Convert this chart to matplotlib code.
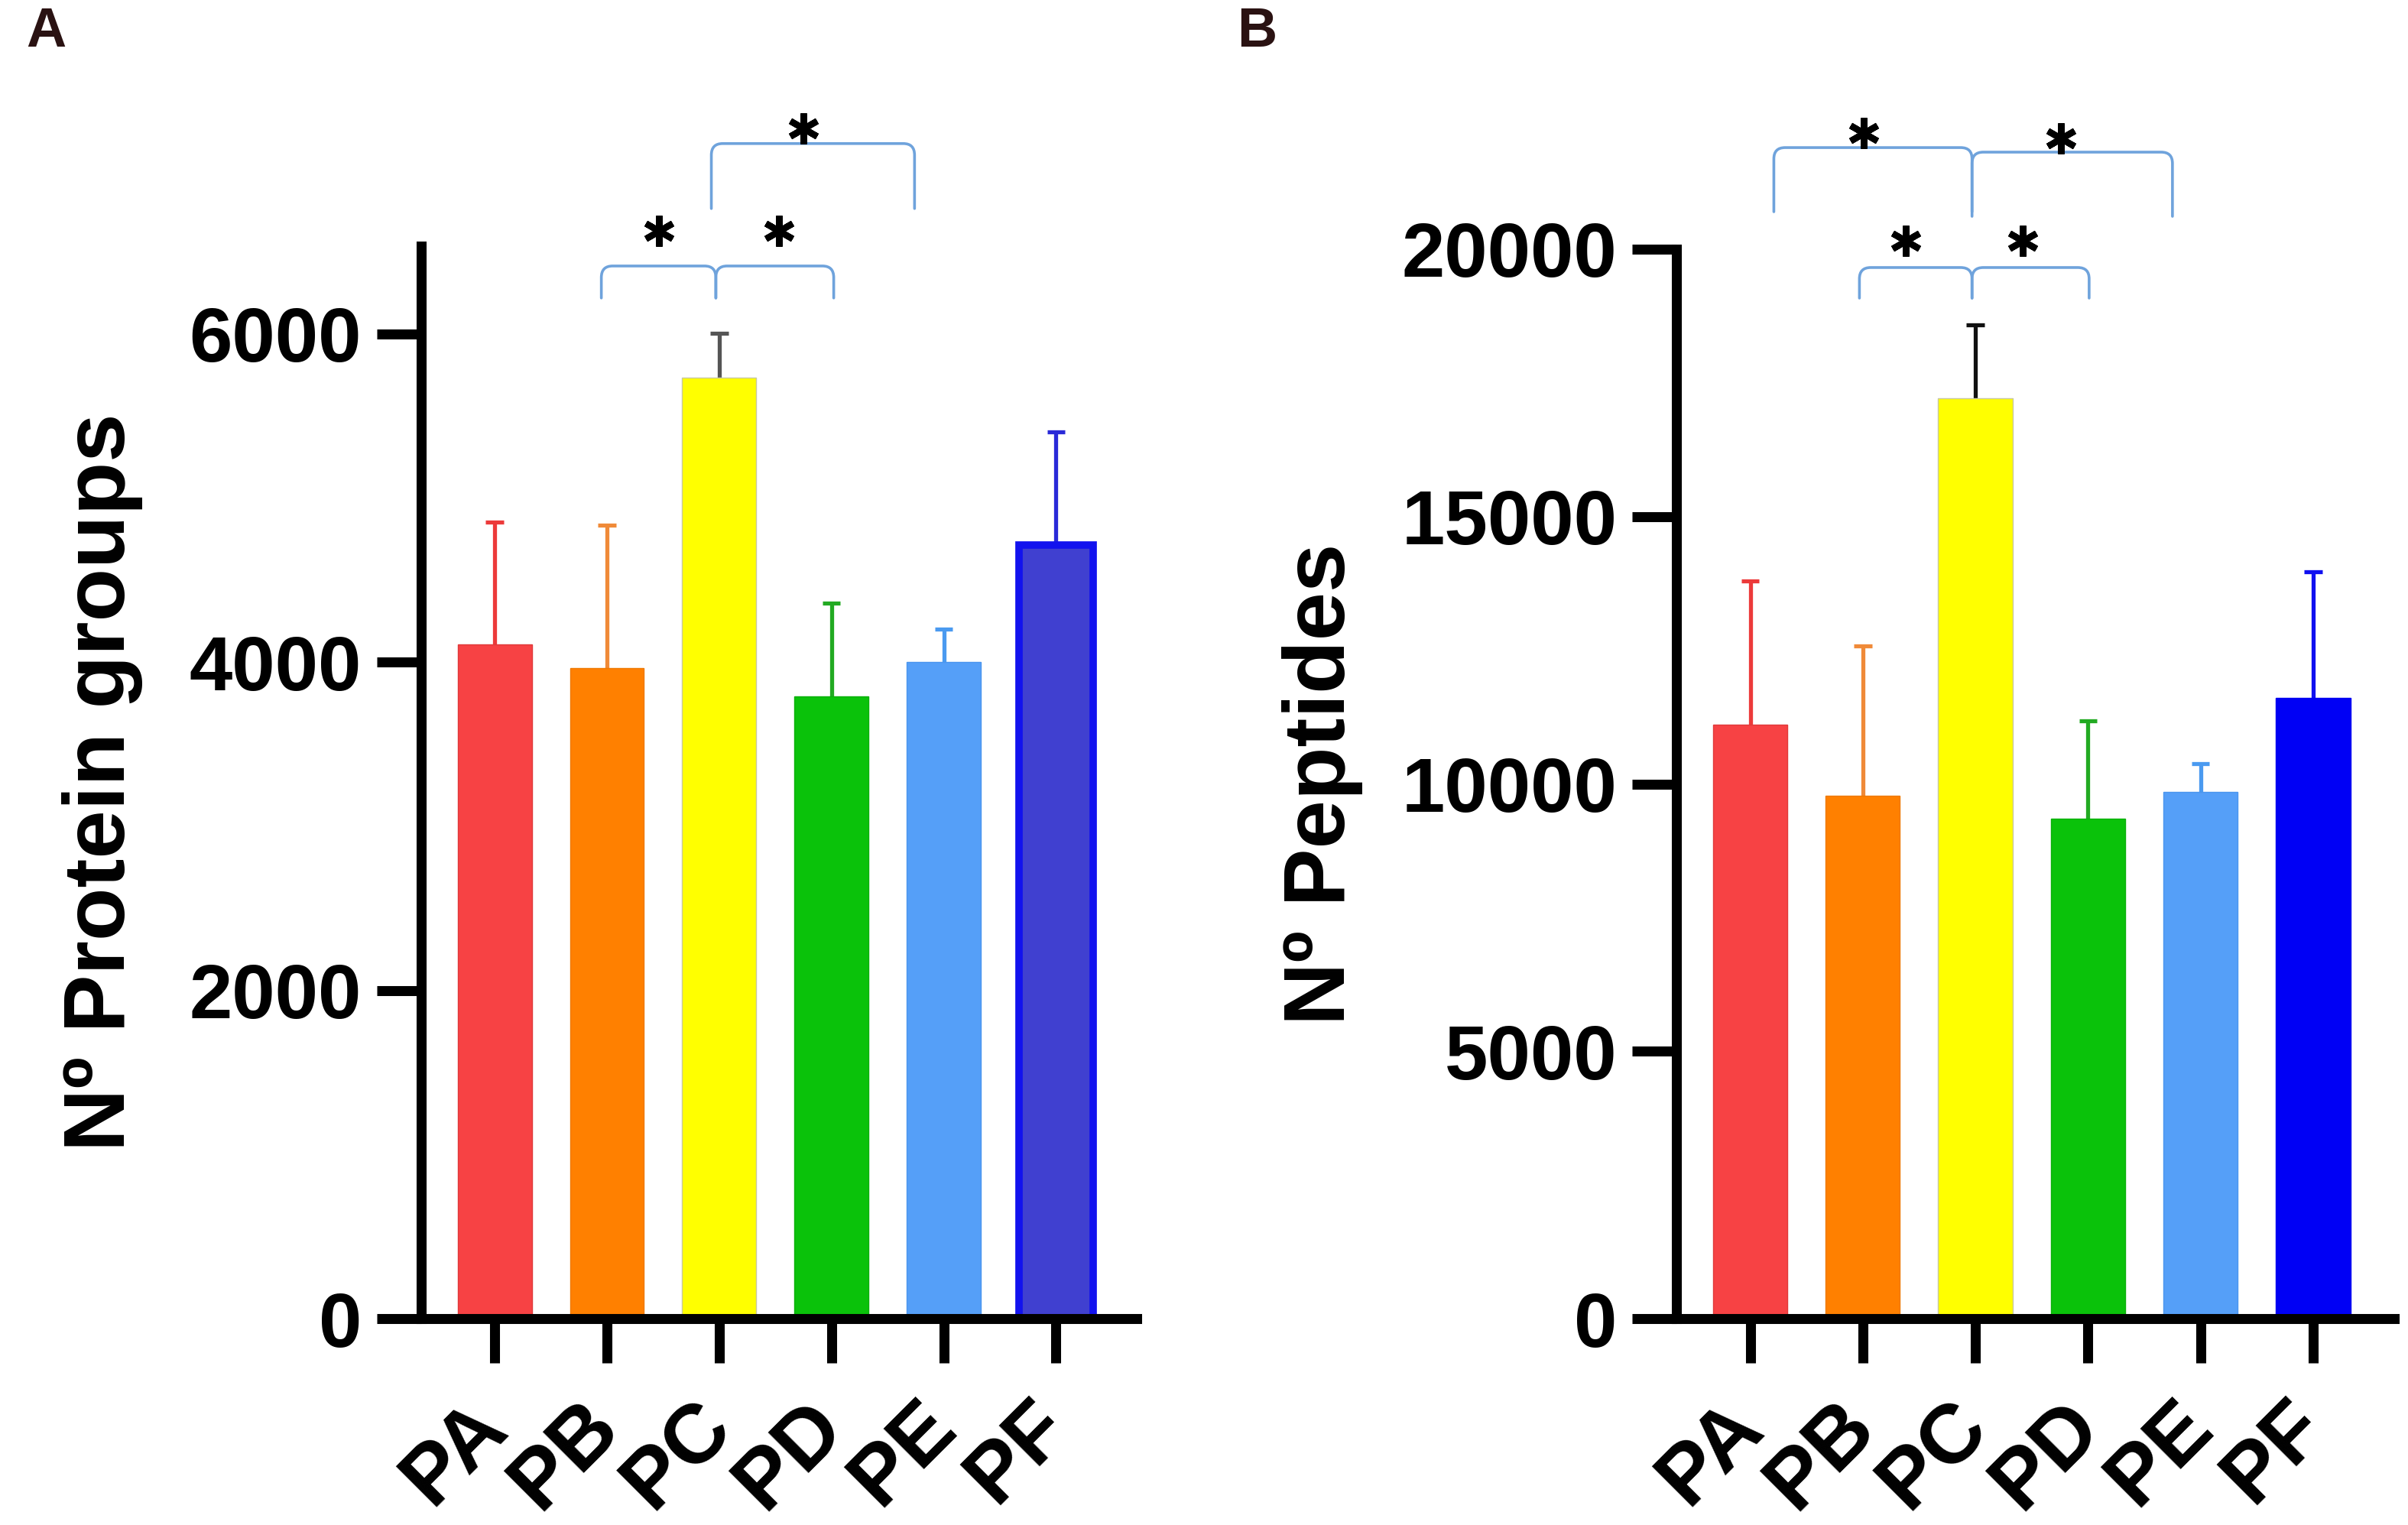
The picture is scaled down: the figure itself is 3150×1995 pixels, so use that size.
import matplotlib
matplotlib.use("Agg")
import matplotlib.pyplot as plt
from matplotlib.path import Path
from matplotlib.patches import PathPatch
from matplotlib.transforms import ScaledTranslation

plt.rcParams["font.family"] = ["Liberation Sans", "DejaVu Sans"]
plt.rcParams["font.weight"] = "bold"

# data
categories = ["PA", "PB", "PC", "PD", "PE", "PF"]
protein_mean = [4107, 3964, 5733, 3792, 4000, 4712]
protein_err = [748, 873, 273, 570, 202, 692]
peptide_mean = [11111, 9781, 17213, 9344, 9854, 11603]
peptide_err = [2678, 2806, 1366, 1840, 529, 2368]

bar_colors = ["#f74244", "#ff8000", "#ffff00", "#0ac20a", "#559ff8", "#4040d0"]
bar_colors_b = ["#f74244", "#ff8000", "#ffff00", "#0ac20a", "#559ff8", "#0000f5"]
edge_a = ["#e03a3a", "#ee7800", "#c8c8a0", "#0ab00a", "#4b95ee", "#1212ee"]
edge_b = ["#e03a3a", "#ee7800", "#c8c8a0", "#0ab00a", "#4b95ee", "#0000f0"]
err_colors_a = ["#ec3a3a", "#f08a38", "#555555", "#22aa22", "#4a9af0", "#2a2ad8"]
err_colors_b = ["#ec3a3a", "#f08a38", "#111111", "#22aa22", "#4a9af0", "#1010f0"]

BRACKET = "#6fa3dc"
DPI = 100


def brace(ax, x0, x1, y_top, y_bot, ry, rx=0.1):
    verts = [(x0, y_bot), (x0, y_top - ry), (x0, y_top), (x0 + rx, y_top),
             (x1 - rx, y_top), (x1, y_top), (x1, y_top - ry), (x1, y_bot)]
    codes = [Path.MOVETO, Path.LINETO, Path.CURVE3, Path.CURVE3,
             Path.LINETO, Path.CURVE3, Path.CURVE3, Path.LINETO]
    ax.add_patch(PathPatch(Path(verts, codes), fill=False, edgecolor=BRACKET,
                           lw=2.6, clip_on=False, capstyle="round"))


def star(ax, x, y):
    ax.plot([x], [y], marker=(6, 2, 0), ms=29, mew=6, color="black",
            clip_on=False, solid_capstyle="round")


def upper_errors(ax, means, errs, colors):
    # one-sided (upward) error bars, drawn behind the bars
    for i, (m, e) in enumerate(zip(means, errs)):
        ax.vlines(i, m, m + e, colors=colors[i], linewidth=3.8, zorder=1)
        ax.hlines(m + e, i - 0.08, i + 0.08, colors=colors[i], linewidth=3.8, zorder=1)


def style_axes(ax, fig, ylim, yticks, ylabel, labelpad):
    ax.set_xlim(-0.655, 5.72)
    ax.set_ylim(*ylim)
    ax.set_yticks(yticks)
    ax.set_xticks(range(len(categories)))
    ax.set_xticklabels(categories, rotation=45, ha="right")
    ax.spines[["top", "right"]].set_visible(False)
    for s in ("left", "bottom"):
        ax.spines[s].set_linewidth(9.4)
        ax.spines[s].set_capstyle("projecting")
    ax.tick_params(axis="both", width=9.4, length=42)
    ax.tick_params(axis="y", pad=14, labelsize=73)
    ax.tick_params(axis="x", pad=22, labelsize=79)
    off = ScaledTranslation(36 / DPI, 0, fig.dpi_scale_trans)
    for lab in ax.get_xticklabels():
        lab.set_transform(lab.get_transform() + off)
    ax.set_ylabel(ylabel, fontsize=82, fontweight="bold", labelpad=labelpad)


fig = plt.figure(figsize=(31.5, 19.95), dpi=DPI)
x = list(range(len(categories)))

# ---- panel A ----
axA = fig.add_axes([0.1749, 0.1353, 0.2972, 0.7033])
axA.bar(x, protein_mean, width=0.66, color=bar_colors, edgecolor=edge_a,
        linewidth=[1, 1, 1, 1, 1, 7], zorder=2)
upper_errors(axA, protein_mean, protein_err, err_colors_a)
style_axes(axA, fig, (0, 6535), [0, 2000, 4000, 6000], "Nº Protein groups", 44)

brace(axA, 0.95, 1.97, 6414, 6219, 70)
brace(axA, 1.97, 3.02, 6414, 6219, 70)
brace(axA, 1.93, 3.74, 7160, 6764, 70)
star(axA, 1.46, 6629)
star(axA, 2.53, 6629)
star(axA, 2.75, 7253)

# ---- panel B ----
axB = fig.add_axes([0.6962, 0.1353, 0.2981, 0.7013])
axB.bar(x, peptide_mean, width=0.66, color=bar_colors_b, edgecolor=edge_b,
        linewidth=1, zorder=2)
upper_errors(axB, peptide_mean, peptide_err, err_colors_b)
style_axes(axB, fig, (0, 20000), [0, 5000, 10000, 15000, 20000], "Nº Peptides", 36)

brace(axB, 0.97, 1.97, 19657, 19085, 210)
brace(axB, 1.97, 3.01, 19657, 19085, 210)
brace(axB, 0.21, 1.97, 21900, 20700, 210)
brace(axB, 1.97, 3.75, 21815, 20614, 210)
star(axB, 1.01, 22178)
star(axB, 2.76, 22073)
star(axB, 1.38, 20157)
star(axB, 2.42, 20157)

fig.text(60 / 3150, 1 - 42 / 1995, "A", fontsize=52, fontweight="bold",
         color="#2a1212", ha="center", va="center")
fig.text(1644 / 3150, 1 - 42 / 1995, "B", fontsize=52, fontweight="bold",
         color="#2a1212", ha="center", va="center")

fig.savefig("out.png", dpi=DPI)
